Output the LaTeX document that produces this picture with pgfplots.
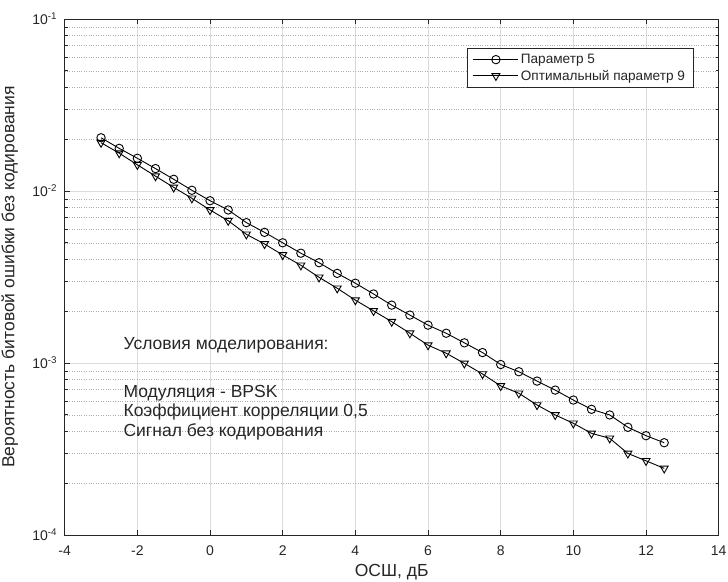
\documentclass[border=0pt]{standalone}
\usepackage{fontspec}
\setmainfont{Liberation Sans}
\usepackage{pgfplots}
\pgfplotsset{compat=1.18}
\pgfplotstableread{
x y
-3.0 2.04e-2
-2.5 1.77e-2
-2.0 1.55e-2
-1.5 1.35e-2
-1.0 1.17e-2
-0.5 1.01e-2
0.0 8.78e-3
0.5 7.76e-3
1.0 6.55e-3
1.5 5.75e-3
2.0 5.00e-3
2.5 4.35e-3
3.0 3.83e-3
3.5 3.32e-3
4.0 2.91e-3
4.5 2.52e-3
5.0 2.17e-3
5.5 1.90e-3
6.0 1.66e-3
6.5 1.49e-3
7.0 1.31e-3
7.5 1.15e-3
8.0 9.80e-4
8.5 8.90e-4
9.0 7.85e-4
9.5 6.96e-4
10.0 6.09e-4
10.5 5.38e-4
11.0 4.99e-4
11.5 4.23e-4
12.0 3.78e-4
12.5 3.44e-4
}\paramfive
\pgfplotstableread{
x y
-3.0 1.91e-2
-2.5 1.66e-2
-2.0 1.42e-2
-1.5 1.22e-2
-1.0 1.05e-2
-0.5 9.07e-3
0.0 7.76e-3
0.5 6.72e-3
1.0 5.60e-3
1.5 4.92e-3
2.0 4.25e-3
2.5 3.70e-3
3.0 3.15e-3
3.5 2.72e-3
4.0 2.32e-3
4.5 2.01e-3
5.0 1.74e-3
5.5 1.49e-3
6.0 1.27e-3
6.5 1.14e-3
7.0 9.95e-4
7.5 8.63e-4
8.0 7.36e-4
8.5 6.67e-4
9.0 5.70e-4
9.5 4.99e-4
10.0 4.46e-4
10.5 3.90e-4
11.0 3.65e-4
11.5 2.98e-4
12.0 2.70e-4
12.5 2.44e-4
}\paramnine
\definecolor{mltext}{RGB}{38,38,38}
\begin{document}
\begin{tikzpicture}
\path[use as bounding box] (-64.7pt,-46pt) rectangle (663.3pt,535pt);
\begin{axis}[
  at={(0pt,0pt)}, anchor=south west,
  scale only axis, width=654pt, height=516pt,
  ymode=log,
  xmin=-4, xmax=14, ymin=1e-4, ymax=1e-1,
  xtick={-4,-2,0,2,4,6,8,10,12,14},
  xticklabels={-4,-2,0,2,4,6,8,10,12,14},
  minor xtick={},
  ytick={1e-4,1e-3,1e-2,1e-1},
  yticklabels={10\textsuperscript{-4},10\textsuperscript{-3},10\textsuperscript{-2},10\textsuperscript{-1}},
  minor ytick={2e-4,3e-4,4e-4,5e-4,6e-4,7e-4,8e-4,9e-4,2e-3,3e-3,4e-3,5e-3,6e-3,7e-3,8e-3,9e-3,2e-2,3e-2,4e-2,5e-2,6e-2,7e-2,8e-2,9e-2},
  xmajorgrids, ymajorgrids, yminorgrids,
  major grid style={solid, color=black!14, line width=0.5pt},
  minor grid style={dotted, color=black!32, line width=0.5pt},
  tick align=inside, tick pos=both,
  major tick length=5pt, minor tick length=3pt,
  tick style={color=mltext, line width=0.6pt},
  axis line style={color=mltext, line width=0.8pt},
  tick label style={font=\fontsize{14}{16}\selectfont, text=mltext},
  xticklabel style={yshift=-7pt},
  yticklabel style={xshift=-4pt},
  xlabel={ОСШ, дБ},
  ylabel={Вероятность битовой ошибки без кодирования},
  every axis x label/.style={at={(axis description cs:0.5,-0.0717)}, anchor=center, font=\fontsize{17.5}{20}\selectfont, text=mltext},
  every axis y label/.style={at={(axis description cs:-0.0841,0.5)}, anchor=center, rotate=90, font=\fontsize{17.5}{20}\selectfont, text=mltext},
  legend style={at={(0.961,0.944)}, anchor=north east, draw=mltext, line width=0.6pt, fill=white,
    font=\fontsize{13.6}{16}\selectfont, text=mltext, cells={anchor=west},
    inner xsep=6pt, inner ysep=4pt, row sep=1pt},
  legend image code/.code={\draw[mark repeat=2,mark phase=2,#1] plot coordinates {(0pt,0pt) (22.5pt,0pt) (45pt,0pt)};},
]
\addplot[black, line width=0.9pt, mark=o, mark size=4.2pt, mark options={solid}] table[x=x,y=y] {\paramfive};
\addlegendentry{Параметр 5}
\addplot[black, line width=0.9pt, mark=triangle, mark size=4.6pt, mark options={solid, rotate=180}] table[x=x,y=y] {\paramnine};
\addlegendentry{Оптимальный параметр 9}
\node[anchor=west, font=\fontsize{17.5}{20}\selectfont, text=mltext] at (rel axis cs:0.0846,0.368) {Условия моделирования:};
\node[anchor=west, font=\fontsize{17.5}{20}\selectfont, text=mltext] at (rel axis cs:0.0846,0.2746) {Модуляция - BPSK};
\node[anchor=west, font=\fontsize{17.5}{20}\selectfont, text=mltext] at (rel axis cs:0.0846,0.2378) {Коэффициент корреляции 0,5};
\node[anchor=west, font=\fontsize{17.5}{20}\selectfont, text=mltext] at (rel axis cs:0.0846,0.199) {Сигнал без кодирования};
\end{axis}
\end{tikzpicture}
\end{document}
